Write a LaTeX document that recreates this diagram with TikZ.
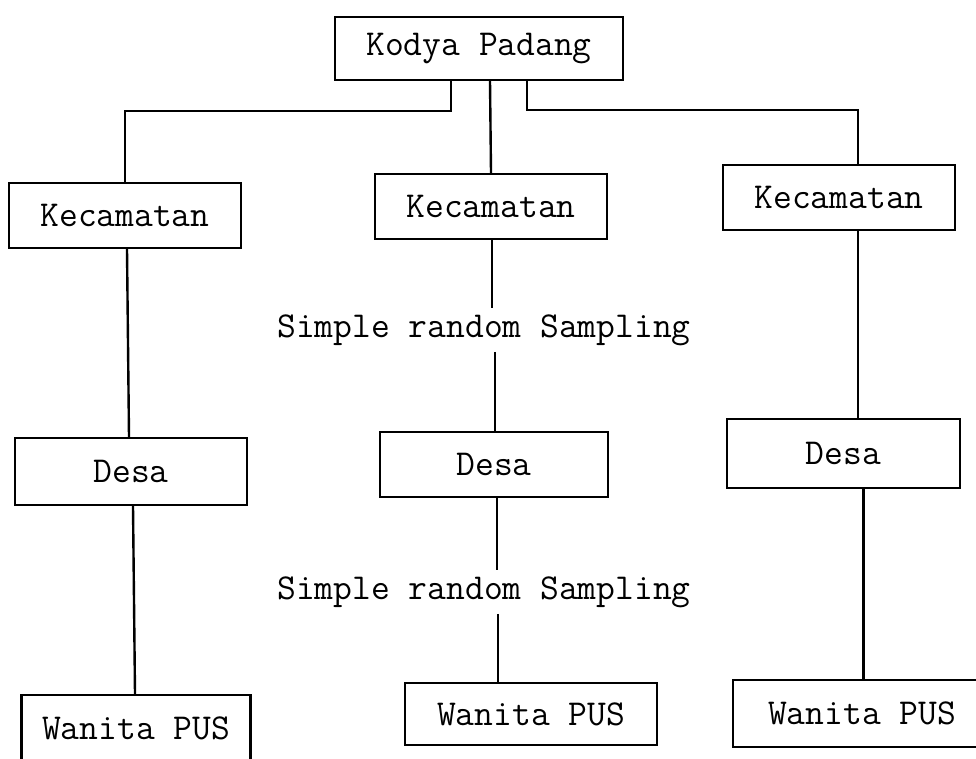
\documentclass[tikz,border=0pt]{standalone}
\usepackage{fontspec}
\begin{document}
\begin{tikzpicture}[x=1pt,y=-1pt,
  txt/.style={font=\ttfamily\fontsize{36.5}{42}\selectfont},
  box/.style={draw, line width=2.4pt, inner sep=0pt, txt},
  lbl/.style={inner sep=6pt, txt},
  conn/.style={line width=2.4pt}]
\clip (0,0) rectangle (976,758);
% boxes
\node[box, minimum width=288pt, minimum height=63pt] (top) at (479,48.5) {Kodya Padang};
\node[box, minimum width=232pt, minimum height=65pt] (kL) at (125,215.5) {Kecamatan};
\node[box, minimum width=232pt, minimum height=65pt] (kM) at (491,206.5) {Kecamatan};
\node[box, minimum width=232pt, minimum height=65pt] (kR) at (839,197.5) {Kecamatan};
\node[box, minimum width=232pt, minimum height=67pt] (dL) at (131,471.5) {Desa};
\node[box, minimum width=228pt, minimum height=65pt] (dM) at (494,464.5) {Desa};
\node[box, minimum width=233pt, minimum height=69pt] (dR) at (843.5,453.5) {Desa};
\node[box, minimum width=229pt, minimum height=66pt] (wL) at (136,728) {Wanita PUS};
\node[box, minimum width=252pt, minimum height=62pt] (wM) at (531,714) {Wanita PUS};
\node[box, minimum width=258pt, minimum height=67pt] (wR) at (862,713.5) {Wanita PUS};
% labels
\node[lbl] (s1) at (484,330) {Simple random Sampling};
\node[lbl] (s2) at (484,592) {Simple random Sampling};
% connectors
\draw[conn] ([xshift=-28pt]top.south) -- ++(0,30) -| (kL.north);
\draw[conn] ([xshift=11pt]top.south) -- (kM.north);
\draw[conn] ([xshift=48pt]top.south) -- ++(0,29) -| ([xshift=19pt]kR.north);
\draw[conn] ([xshift=2pt]kL.south) -- ([xshift=-2pt]dL.north);
\draw[conn] ([xshift=2pt]dL.south) -- ([xshift=-1pt]wL.north);
\draw[conn] ([xshift=1pt]kM.south) -- ([xshift=1pt]kM.south |- s1.north);
\draw[conn] ([xshift=1pt]dM.north |- s1.south) -- ([xshift=1pt]dM.north);
\draw[conn] ([xshift=3pt]dM.south) -- ([xshift=3pt]dM.south |- s2.north);
\draw[conn] ([xshift=-33pt]wM.north |- s2.south) -- ([xshift=-33pt]wM.north);
\draw[conn] ([xshift=19pt]kR.south) -- ([xshift=19pt]kR.south |- dR.north);
\draw[conn] ([xshift=20pt]dR.south) -- ([xshift=20pt]dR.south |- wR.north);
\end{tikzpicture}
\end{document}
